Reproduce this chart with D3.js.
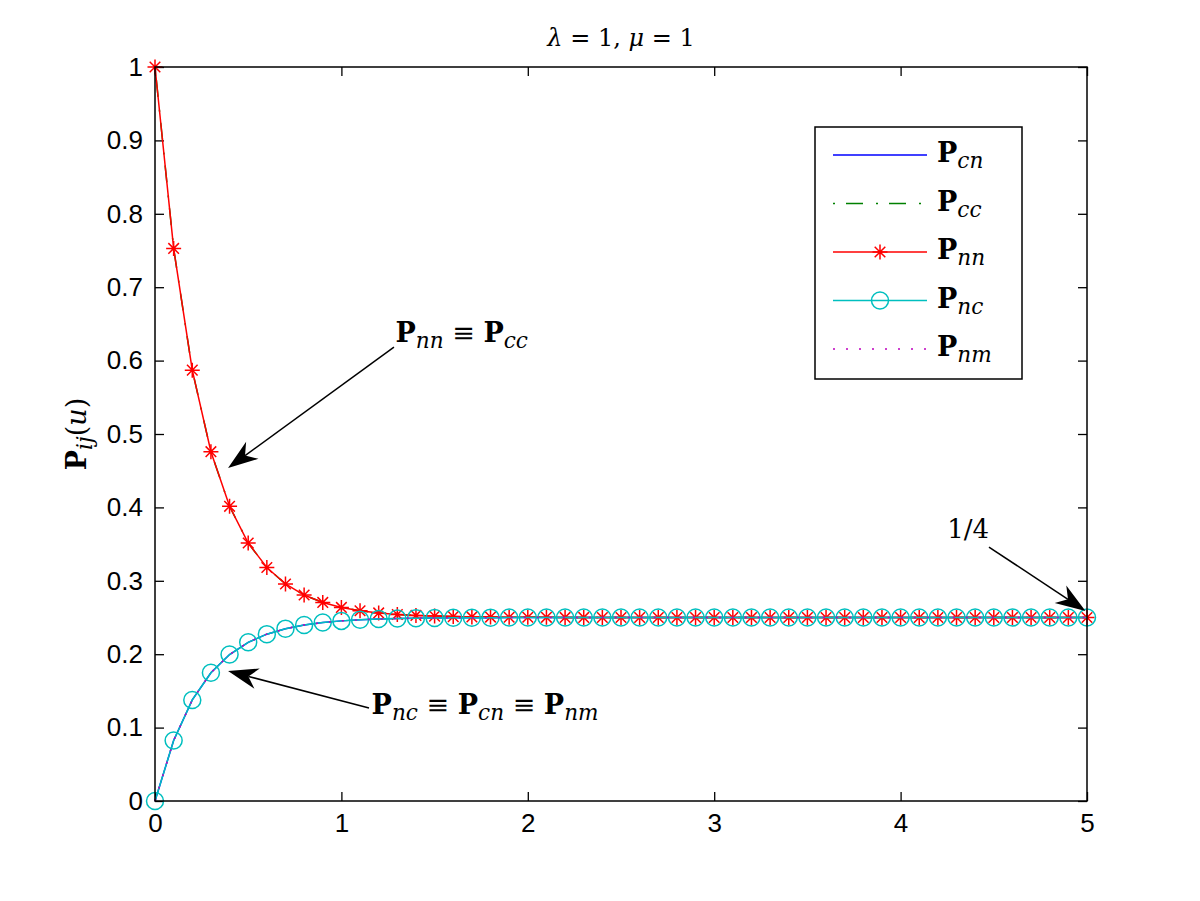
<!DOCTYPE html>
<html>
<head>
<meta charset="utf-8">
<script src="https://cdn.jsdelivr.net/npm/d3@7"></script>
<style>
  body { margin: 0; background: #fff; }
  svg { display: block; }
</style>
</head>
<body>
<svg id="chart" width="1200" height="901"></svg>
<script>
// data (u = 0 .. 5, step 0.1)
const uValues = [0, 0.1, 0.2, 0.3, 0.4, 0.5, 0.6, 0.7, 0.8, 0.9, 1, 1.1, 1.2, 1.3, 1.4, 1.5, 1.6, 1.7, 1.8, 1.9,
  2, 2.1, 2.2, 2.3, 2.4, 2.5, 2.6, 2.7, 2.8, 2.9, 3, 3.1, 3.2, 3.3, 3.4, 3.5, 3.6, 3.7, 3.8, 3.9,
  4, 4.1, 4.2, 4.3, 4.4, 4.5, 4.6, 4.7, 4.8, 4.9, 5];

const pNN = [1.0, 0.7528, 0.5870, 0.4759, 0.4015, 0.3515, 0.3181, 0.2957, 0.2806, 0.2705,
  0.2637, 0.2592, 0.2562, 0.2541, 0.2528, 0.2519, 0.2512, 0.2508, 0.2506, 0.2504,
  0.2503, 0.2502, 0.2501, 0.2501, 0.25, 0.25, 0.25, 0.25, 0.25, 0.25,
  0.25, 0.25, 0.25, 0.25, 0.25, 0.25, 0.25, 0.25, 0.25, 0.25,
  0.25, 0.25, 0.25, 0.25, 0.25, 0.25, 0.25, 0.25, 0.25, 0.25, 0.25];

const pNC = [0, 0.0824, 0.1377, 0.1747, 0.1995, 0.2162, 0.2273, 0.2348, 0.2398, 0.2432,
  0.2454, 0.2469, 0.2479, 0.2486, 0.2491, 0.2494, 0.2496, 0.2497, 0.2498, 0.2499,
  0.2499, 0.2499, 0.25, 0.25, 0.25, 0.25, 0.25, 0.25, 0.25, 0.25,
  0.25, 0.25, 0.25, 0.25, 0.25, 0.25, 0.25, 0.25, 0.25, 0.25,
  0.25, 0.25, 0.25, 0.25, 0.25, 0.25, 0.25, 0.25, 0.25, 0.25, 0.25];

// the figure shows these curves on top of each other
const pCC = pNN;
const pCN = pNC;
const pNM = pNC;

const xTicks = [0, 1, 2, 3, 4, 5];
const yTicks = [0, 0.1, 0.2, 0.3, 0.4, 0.5, 0.6, 0.7, 0.8, 0.9, 1];

const series = [
  { name: "cn", values: pCN, color: "#0000ff", dash: null, marker: null },
  { name: "cc", values: pCC, color: "#008000", dash: "2,11,17,13", marker: null },
  { name: "nn", values: pNN, color: "#ff0000", dash: null, marker: "star" },
  { name: "nc", values: pNC, color: "#00bfbf", dash: null, marker: "circle" },
  { name: "nm", values: pNM, color: "#bf00bf", dash: "2,11", marker: null }
];

const margin = { top: 67, right: 113, bottom: 100, left: 155 };
const width = 1200 - margin.left - margin.right;
const height = 901 - margin.top - margin.bottom;
const serif = "'DejaVu Serif', 'Liberation Serif', serif";
const sans = "'Liberation Sans', Arial, sans-serif";
const starPath = "M-7.5,0H7.5M0,-7.5V7.5M-5.3,-5.3L5.3,5.3M-5.3,5.3L5.3,-5.3";

const svg = d3.select("#chart");
const g = svg.append("g").attr("transform", `translate(${margin.left},${margin.top})`);

const x = d3.scaleLinear().domain([0, 5]).range([0, width]);
const y = d3.scaleLinear().domain([0, 1]).range([height, 0]);

// math-ish text: bold P, italic subscripts
function mathText(sel, parts, size) {
  parts.forEach(p => {
    const t = sel.append("tspan").text(p.t);
    if (p.b) t.attr("font-weight", "bold");
    if (p.i) t.attr("font-style", "italic");
    if (p.sub) {
      t.attr("font-style", "italic").attr("font-size", size * 0.8).attr("dy", size * 0.24);
    }
    if (p.up) t.attr("dy", -size * 0.24);
  });
}

// axes: ticks inward, on all four sides
g.append("g")
  .attr("transform", `translate(0,${height})`)
  .call(d3.axisBottom(x).tickValues(xTicks).tickSize(-9).tickPadding(13).tickFormat(d3.format("d")))
  .call(a => a.select(".domain").remove());
g.append("g")
  .call(d3.axisTop(x).tickValues(xTicks).tickSize(-9).tickFormat(""))
  .call(a => a.select(".domain").remove());
g.append("g")
  .call(d3.axisLeft(y).tickValues(yTicks).tickSize(-9).tickPadding(12).tickFormat(d => d3.format("")(+d.toFixed(1))))
  .call(a => a.select(".domain").remove());
g.append("g")
  .attr("transform", `translate(${width},0)`)
  .call(d3.axisRight(y).tickValues(yTicks).tickSize(-9).tickFormat(""))
  .call(a => a.select(".domain").remove());

g.selectAll(".tick line").attr("stroke", "#000").attr("stroke-width", 1.3);
g.selectAll(".tick text").attr("font-family", sans).attr("font-size", 26).attr("fill", "#000");

// lines
const line = d3.line().x((d, i) => x(uValues[i])).y(d => y(d));

series.forEach(s => {
  g.append("path")
    .datum(s.values)
    .attr("fill", "none")
    .attr("stroke", s.color)
    .attr("stroke-width", 1.5)
    .attr("stroke-dasharray", s.dash)
    .attr("d", line);

  if (s.marker === "star") {
    g.selectAll(null).data(s.values).enter().append("path")
      .attr("transform", (d, i) => `translate(${x(uValues[i])},${y(d)})`)
      .attr("d", starPath)
      .attr("stroke", s.color).attr("stroke-width", 1.5).attr("fill", "none");
  }
  if (s.marker === "circle") {
    g.selectAll(null).data(s.values).enter().append("circle")
      .attr("cx", (d, i) => x(uValues[i]))
      .attr("cy", d => y(d))
      .attr("r", 8.5)
      .attr("stroke", s.color).attr("stroke-width", 1.5).attr("fill", "none");
  }
});

// axes box
g.append("rect")
  .attr("width", width).attr("height", height)
  .attr("fill", "none").attr("stroke", "#000").attr("stroke-width", 1.5);

// title
const title = svg.append("text")
  .attr("x", margin.left + width / 2).attr("y", 46)
  .attr("text-anchor", "middle")
  .attr("font-family", serif).attr("font-size", 24);
title.append("tspan").attr("font-style", "italic").text("λ");
title.append("tspan").text(" = 1, ");
title.append("tspan").attr("font-style", "italic").text("μ");
title.append("tspan").text(" = 1");

// y label
const yLab = svg.append("text")
  .attr("transform", `translate(86,${margin.top + height / 2}) rotate(-90)`)
  .attr("text-anchor", "middle")
  .attr("font-family", serif).attr("font-size", 27);
mathText(yLab, [{ t: "P", b: true }, { t: "ij", sub: true }, { t: "(", up: true }, { t: "u", i: true }, { t: ")" }], 27);

// annotations (data coordinates)
function arrow(x0, y0, x1, y1) {
  const sx = x(x0), sy = y(y0), tx = x(x1), ty = y(y1);
  const ang = Math.atan2(ty - sy, tx - sx);
  const len = 30, hw = 10.5, back = 9;
  const ux = Math.cos(ang), uy = Math.sin(ang);
  const bx = tx - ux * len, by = ty - uy * len;
  const nx = tx - ux * (len - back), ny = ty - uy * (len - back);
  g.append("line")
    .attr("x1", sx).attr("y1", sy).attr("x2", nx).attr("y2", ny)
    .attr("stroke", "#000").attr("stroke-width", 1.5);
  g.append("path")
    .attr("d", `M${tx},${ty}L${bx - uy * hw},${by + ux * hw}L${nx},${ny}L${bx + uy * hw},${by - ux * hw}Z`)
    .attr("fill", "#000");
}

arrow(1.282, 0.6185, 0.392, 0.4537);
arrow(1.148, 0.1267, 0.392, 0.177);
arrow(4.474, 0.346, 4.992, 0.259);

const ann1 = g.append("text")
  .attr("x", x(1.29)).attr("y", y(0.626))
  .attr("font-family", serif).attr("font-size", 27);
mathText(ann1, [{ t: "P", b: true }, { t: "nn", sub: true }, { t: " ≡ ", up: true }, { t: "P", b: true }, { t: "cc", sub: true }], 27);

const ann2 = g.append("text")
  .attr("x", x(1.162)).attr("y", y(0.119))
  .attr("font-family", serif).attr("font-size", 27);
mathText(ann2, [{ t: "P", b: true }, { t: "nc", sub: true }, { t: " ≡ ", up: true }, { t: "P", b: true }, { t: "cn", sub: true },
  { t: " ≡ ", up: true }, { t: "P", b: true }, { t: "nm", sub: true }], 27);

g.append("text")
  .attr("x", x(4.25)).attr("y", y(0.358))
  .attr("font-family", serif).attr("font-size", 26)
  .text("1/4");

// legend
const legend = svg.append("g").attr("transform", "translate(815,127)");
legend.append("rect")
  .attr("width", 207).attr("height", 252)
  .attr("fill", "#fff").attr("stroke", "#000").attr("stroke-width", 1.5);

series.forEach((s, i) => {
  const ly = 28 + i * 48.5;
  legend.append("line")
    .attr("x1", 18).attr("x2", 112).attr("y1", ly).attr("y2", ly)
    .attr("stroke", s.color).attr("stroke-width", 1.5)
    .attr("stroke-dasharray", s.dash);
  if (s.marker === "star") {
    legend.append("path")
      .attr("transform", `translate(65,${ly})`)
      .attr("d", starPath)
      .attr("stroke", s.color).attr("stroke-width", 1.5);
  }
  if (s.marker === "circle") {
    legend.append("circle")
      .attr("cx", 65).attr("cy", ly).attr("r", 8.5)
      .attr("stroke", s.color).attr("stroke-width", 1.5).attr("fill", "none");
  }
  const t = legend.append("text")
    .attr("x", 122).attr("y", ly + 7)
    .attr("font-family", serif).attr("font-size", 27);
  mathText(t, [{ t: "P", b: true }, { t: s.name, sub: true }], 27);
});
</script>
</body>
</html>
